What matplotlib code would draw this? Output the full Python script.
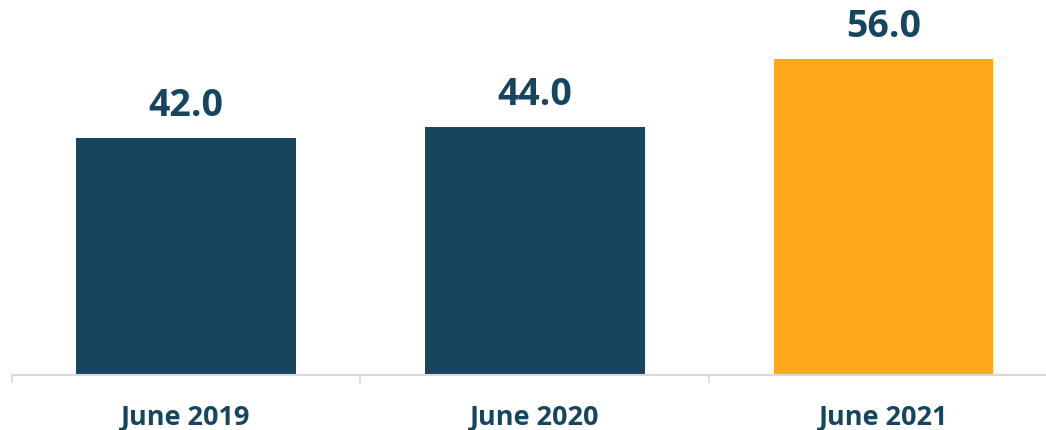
import matplotlib
matplotlib.use("Agg")
from matplotlib import pyplot as plt

categories = ["June 2019", "June 2020", "June 2021"]
values = [42.0, 44.0, 56.0]
colors = ["#16465F", "#16465F", "#FDA71A"]

TEXT = "#16465F"
plt.rcParams["font.family"] = ["Open Sans", "DejaVu Sans"]

fig = plt.figure(figsize=(10.46, 4.31), dpi=100)
ax = fig.add_axes([11.6 / 1046, 55 / 431, 1 - 11.6 / 1046, 376 / 431])

x = range(len(categories))
bars = ax.bar(x, values, width=0.63, color=colors)
for b, v in zip(bars, values):
    ax.annotate(f"{v:.1f}", (b.get_x() + b.get_width() / 2, v),
                xytext=(0, 14), textcoords="offset pixels",
                ha="center", va="bottom", fontsize=27, fontweight="bold",
                color=TEXT)

ax.set_xlim(-0.5, 2.466)
ax.set_ylim(0, 66.7)
ax.set_xticks(list(x))
ax.set_xticklabels(categories, fontsize=19.5, fontweight="bold", color=TEXT)
ax.tick_params(axis="x", which="major", length=0, pad=21)
ax.set_xticks([-0.5, 0.5, 1.5], minor=True)
ax.tick_params(axis="x", which="minor", length=5.8, width=1.3, color="#D9D9D9")
ax.set_yticks([])
for s in ["left", "right", "top"]:
    ax.spines[s].set_visible(False)
ax.spines["bottom"].set_color("#D9D9D9")
ax.spines["bottom"].set_linewidth(1.5)

fig.savefig("out.png", dpi=100)
